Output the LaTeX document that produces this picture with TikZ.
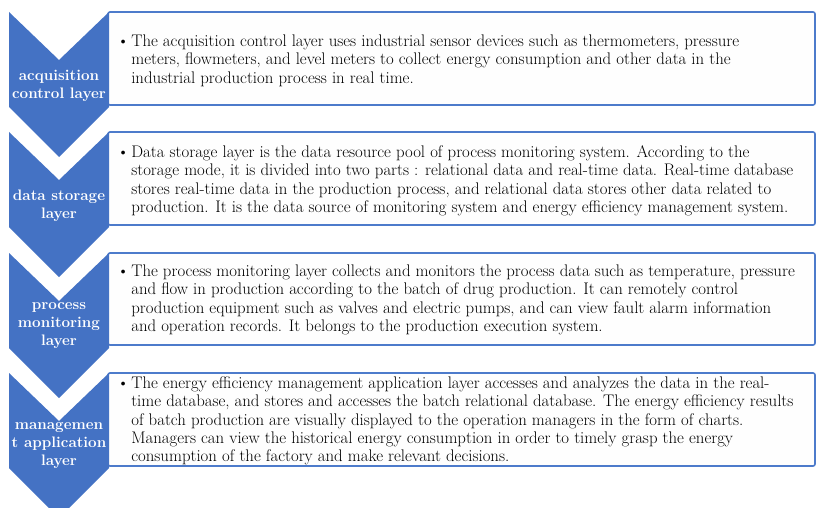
\documentclass[tikz,border=0pt]{standalone}
\usepackage{xcolor}
\usepackage{tikz}
\definecolor{cchev}{HTML}{4472C4}
\definecolor{cedge}{HTML}{4D7BCB}
\definecolor{cpaper}{HTML}{FEFEFE}
\newcommand{\Bl}[1]{\begin{tabular}[t]{@{}l@{\hspace{2pt}}l@{}}\textbullet & #1\end{tabular}}

\begin{document}
\begin{tikzpicture}[x=1pt, y=-1pt,
    chev/.style={fill=cchev},
    layerbox/.style={rounded corners=2pt, fill=cpaper, draw=cedge, line width=1.6pt},
    chevlabel/.style={white, align=center, inner sep=0pt,
                      font=\fontsize{15.2}{18}\selectfont\bfseries},
    bodytext/.style={anchor=north west, inner sep=0pt,
                     font=\fontsize{16.8}{18.3}\selectfont}]
  \useasboundingbox (0,0) rectangle (816,508);
  \clip (0,0) rectangle (816,508);
  % boxes
  \draw[layerbox] (108,12) rectangle (815,105);
  \draw[layerbox] (108,132) rectangle (815,225);
  \draw[layerbox] (108,253) rectangle (815,345);
  \draw[layerbox] (108,373) rectangle (815,466);
  % chevrons
  \fill[chev] (9,12) -- (59,60) -- (109,12) -- (109,107) -- (59,157) -- (9,107) -- cycle;
  \fill[chev] (9,132) -- (59,180) -- (109,132) -- (109,227) -- (59,277) -- (9,227) -- cycle;
  \fill[chev] (9,253) -- (59,301) -- (109,253) -- (109,348) -- (59,398) -- (9,348) -- cycle;
  \fill[chev] (9,373) -- (59,421) -- (109,373) -- (109,468) -- (59,518) -- (9,468) -- cycle;
  % labels
  \node[chevlabel] (acqlabel) at (59,85.5) {acquisition\\control layer};
  \node[chevlabel] (storelabel) at (59,205.5) {data storage\\layer};
  \node[chevlabel] (monlabel) at (59,326) {process\\monitoring\\layer};
  \node[chevlabel] (mgmtlabel) at (59,446) {managemen\\t application\\layer};
  % texts
  \node[bodytext] (acqtext) at (117,33.6) {\Bl{The acquisition control layer uses industrial sensor devices such as thermometers, pressure\\
    & meters, flowmeters, and level meters to collect energy consumption and other data in the\\
    & industrial production process in real time.}};
  \node[bodytext] (storetext) at (117,144.6) {\Bl{Data storage layer is the data resource pool of process monitoring system. According to the\\
    & storage mode, it is divided into two parts : relational data and real-time data. Real-time database\\
    & stores real-time data in the production process, and relational data stores other data related to\\
    & production. It is the data source of monitoring system and energy efficiency management system.}};
  \node[bodytext] (montext) at (117,263.6) {\Bl{The process monitoring layer collects and monitors the process data such as temperature, pressure\\
    & and flow in production according to the batch of drug production. It can remotely control\\
    & production equipment such as valves and electric pumps, and can view fault alarm information\\
    & and operation records. It belongs to the production execution system.}};
  \node[bodytext] (mgmttext) at (117,375.6) {\Bl{The energy efficiency management application layer accesses and analyzes the data in the real-\\
    & time database, and stores and accesses the batch relational database. The energy efficiency results\\
    & of batch production are visually displayed to the operation managers in the form of charts.\\
    & Managers can view the historical energy consumption in order to timely grasp the energy\\
    & consumption of the factory and make relevant decisions.}};
\end{tikzpicture}
\end{document}
